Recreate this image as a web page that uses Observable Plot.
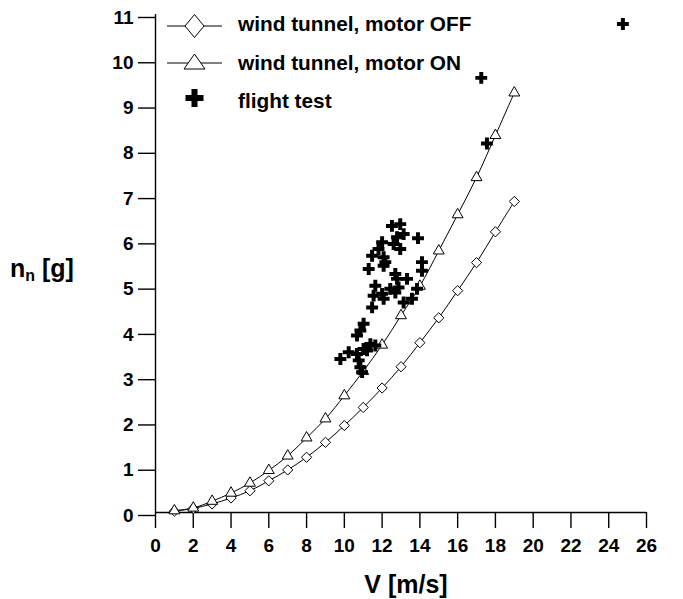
<!DOCTYPE html>
<html><head><meta charset="utf-8">
<script src="https://cdn.jsdelivr.net/npm/d3@7"></script>
<script src="https://cdn.jsdelivr.net/npm/@observablehq/plot@0.6"></script>
<style>
body{margin:0;background:#fff}
#chart{position:relative;width:683px;height:599px}
</style>
</head><body><div id="chart"></div>
<script>
// Wind tunnel speeds (m/s)
const V_tunnel = [1,2,3,4,5,6,7,8,9,10,11,12,13,14,15,16,17,18,19];
// Normal load factor, wind tunnel motor OFF
const n_off = [0.03,0.09,0.19,0.32,0.48,0.70,0.94,1.22,1.55,1.92,2.32,2.75,3.22,3.75,4.30,4.90,5.52,6.20,6.87];
// Normal load factor, wind tunnel motor ON
const n_on = [0.04,0.10,0.25,0.43,0.65,0.93,1.25,1.65,2.07,2.58,3.12,3.70,4.35,5.00,5.78,6.58,7.40,8.33,9.27];
// Flight test points
const V_flight = [12.52,12.96,13.14,12.79,13.90,12.00,12.61,12.96,11.81,11.47,12.08,12.17,12.08,11.29,14.11,14.11,12.70,12.79,13.32,11.64,12.43,12.87,13.85,12.00,11.55,12.08,12.70,13.14,13.58,11.47,11.02,10.85,10.67,11.38,11.64,11.20,10.67,10.23,9.79,10.76,10.85,10.94,11.02,17.25,17.55,24.75];
const n_flight = [6.33,6.37,6.15,6.08,6.06,5.97,5.93,5.82,5.82,5.67,5.64,5.53,5.45,5.38,5.53,5.34,5.27,5.16,5.16,5.01,4.94,4.97,4.94,4.83,4.79,4.72,4.86,4.64,4.72,4.53,4.17,4.02,3.91,3.72,3.69,3.58,3.50,3.54,3.39,3.36,3.21,3.10,3.61,9.60,8.15,10.79];
// Ticks
const xTicks = [0,2,4,6,8,10,12,14,16,18,20,22,24,26];
const yTicks = [0,1,2,3,4,5,6,7,8,9,10,11];
// Labels
const xLabel = "V [m/s]";
const yLabelMain = "n", yLabelSub = "n", yLabelRest = " [g]";
const legendLabels = ["wind tunnel, motor OFF", "wind tunnel, motor ON", "flight test"];

const offData = V_tunnel.map((v,i)=>({V:v, n:n_off[i]}));
const onData = V_tunnel.map((v,i)=>({V:v, n:n_on[i]}));
const flightData = V_flight.map((v,i)=>({V:v, n:n_flight[i]}));

const font = "'Liberation Sans', Arial, sans-serif";

const plot = Plot.plot({
  width: 683, height: 599,
  marginLeft: 155, marginRight: 37, marginTop: 14, marginBottom: 87,
  style: {fontFamily: font, fontWeight: "bold", background: "white", color: "black", overflow: "visible"},
  x: {domain: [0, 26]},
  y: {domain: [0, 11]},
  marks: [
    Plot.axisX({ticks: xTicks, tickSize: 16, tickPadding: 10, fontSize: 19, label: null, strokeWidth: 1.4}),
    Plot.axisY({ticks: yTicks, tickSize: 17, tickPadding: 5, fontSize: 19, label: null, strokeWidth: 1.4, dy: 3}),
    Plot.ruleX([0], {y1: 0, y2: 11, strokeWidth: 1.4}),
    Plot.ruleY([0], {x1: 0, x2: 26, strokeWidth: 1.4}),
    Plot.line(offData, {x: "V", y: "n", curve: "catmull-rom", stroke: "black", strokeWidth: 1}),
    Plot.line(onData, {x: "V", y: "n", curve: "catmull-rom", stroke: "black", strokeWidth: 1}),
    Plot.dot(offData, {x: "V", y: "n", symbol: "diamond2", r: 4.6, stroke: "black", strokeWidth: 1, fill: "white"}),
    Plot.dot(onData, {x: "V", y: "n", symbol: "triangle2", r: 5.2, stroke: "black", strokeWidth: 1, fill: "white"}),
    Plot.dot(flightData, {x: "V", y: "n", symbol: "cross", r: 5, fill: "black", stroke: null})
  ]
});

const svg = d3.select(plot);

// Legend
const lg = svg.append("g").attr("font-family", font).attr("font-weight", "bold").attr("text-anchor", "start");
const rows = [26, 63, 98];
[0,1].forEach(i => {
  lg.append("line").attr("x1", 167).attr("x2", 222).attr("y1", rows[i]).attr("y2", rows[i])
    .attr("stroke", "black").attr("stroke-width", 1);
});
lg.append("path").attr("d", `M194.5,${rows[0]-11.5}L204,${rows[0]}L194.5,${rows[0]+11.5}L185,${rows[0]}Z`)
  .attr("fill", "white").attr("stroke", "black").attr("stroke-width", 1);
lg.append("path").attr("d", `M194.5,${rows[1]-9}L205,${rows[1]+6}L184,${rows[1]+6}Z`)
  .attr("fill", "white").attr("stroke", "black").attr("stroke-width", 1);
lg.append("path").attr("d", d3.symbol(d3.symbolCross, 180)())
  .attr("transform", `translate(194.5,${rows[2]})`).attr("fill", "black");
const textRows = [24, 63, 101];
legendLabels.forEach((t, i) => {
  lg.append("text").attr("x", 238).attr("y", textRows[i]).attr("dy", "0.35em")
    .attr("text-anchor", "start").attr("font-size", 20.8).attr("fill", "black").text(t);
});

// Axis titles
svg.append("text").attr("x", 406).attr("y", 593).attr("text-anchor", "middle")
  .attr("font-family", font).attr("font-weight", "bold").attr("font-size", 25).attr("fill", "black").text(xLabel);
const yt = svg.append("text").attr("x", 10).attr("y", 277).attr("text-anchor", "start")
  .attr("font-family", font).attr("font-weight", "bold").attr("font-size", 25).attr("fill", "black");
yt.append("tspan").text(yLabelMain);
yt.append("tspan").attr("font-size", 16).attr("dy", 4).text(yLabelSub);
yt.append("tspan").attr("dy", -4).text(yLabelRest);

document.getElementById("chart").appendChild(plot);
</script>
</body></html>
